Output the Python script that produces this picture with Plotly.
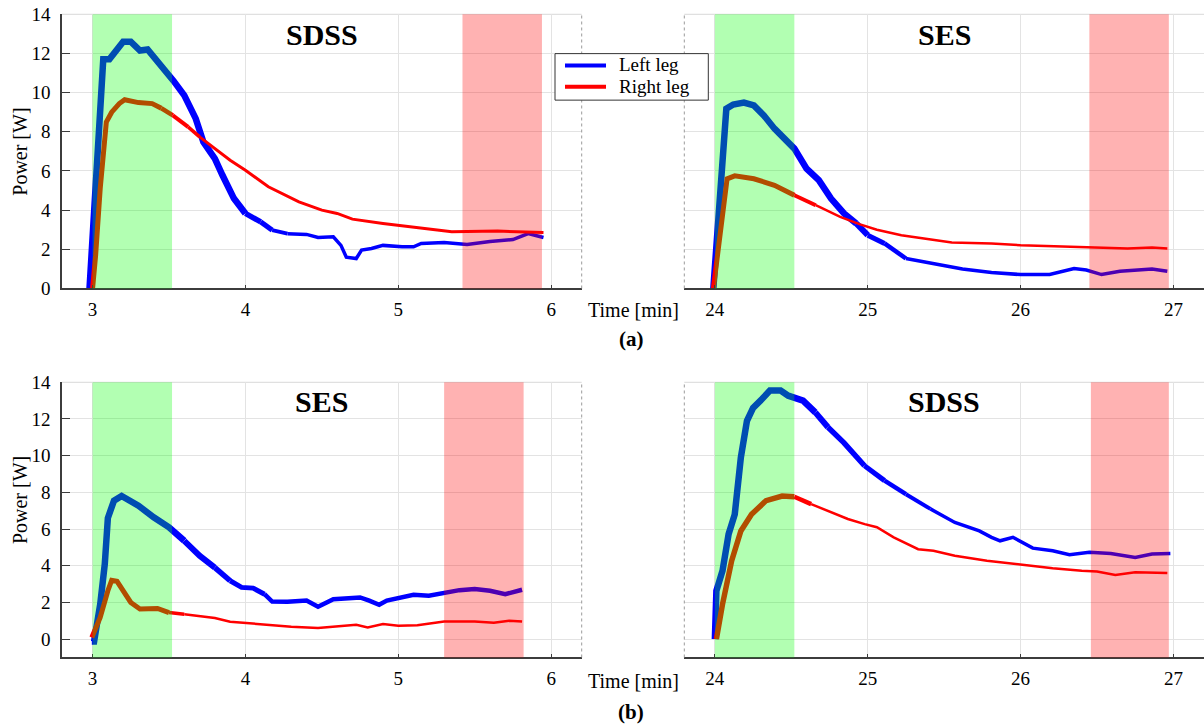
import plotly.graph_objects as go

W, H = 1204, 728

# ---------------- data ----------------
a_sdss_left_x = [2.98, 3.07, 3.11, 3.2, 3.25, 3.31, 3.36, 3.43, 3.53, 3.6, 3.675, 3.725, 3.8, 3.85, 3.925, 4.0, 4.1, 4.175, 4.275, 4.4, 4.475, 4.575, 4.625, 4.66, 4.725, 4.76, 4.825, 4.9, 5.025, 5.1, 5.15, 5.3, 5.45, 5.6, 5.75, 5.85, 5.95]
a_sdss_left_y = [0, 11.7, 11.7, 12.6, 12.6, 12.15, 12.2, 11.56, 10.6, 9.86, 8.67, 7.48, 6.63, 5.78, 4.59, 3.83, 3.4, 2.98, 2.8, 2.76, 2.6, 2.64, 2.2, 1.6, 1.53, 1.96, 2.04, 2.2, 2.13, 2.13, 2.3, 2.35, 2.25, 2.4, 2.5, 2.8, 2.6]
a_sdss_right_x = [3.0, 3.02, 3.05, 3.09, 3.125, 3.175, 3.21, 3.3, 3.39, 3.45, 3.525, 3.625, 3.7, 3.8, 3.9, 4.0, 4.15, 4.35, 4.5, 4.6, 4.7, 4.9, 5.15, 5.35, 5.65, 5.95]
a_sdss_right_y = [0, 1.7, 5.1, 8.5, 9.0, 9.44, 9.64, 9.49, 9.44, 9.2, 8.84, 8.25, 7.74, 7.14, 6.55, 6.04, 5.19, 4.42, 4.0, 3.83, 3.54, 3.32, 3.1, 2.9, 2.93, 2.86]
a_ses_left_x = [23.99, 24.03, 24.075, 24.12, 24.19, 24.255, 24.32, 24.39, 24.456, 24.52, 24.6, 24.68, 24.76, 24.845, 24.925, 25.0, 25.11, 25.25, 25.35, 25.46, 25.62, 25.81, 26.0, 26.19, 26.35, 26.43, 26.53, 26.65, 26.86, 26.96]
a_ses_left_y = [0, 4.4, 9.18, 9.39, 9.49, 9.35, 8.84, 8.16, 7.65, 7.14, 6.12, 5.53, 4.59, 3.83, 3.32, 2.72, 2.3, 1.53, 1.39, 1.19, 0.99, 0.82, 0.71, 0.71, 1.02, 0.94, 0.71, 0.88, 0.99, 0.88]
a_ses_right_x = [23.99, 24.03, 24.08, 24.13, 24.255, 24.39, 24.52, 24.66, 24.82, 24.95, 25.06, 25.22, 25.41, 25.55, 25.81, 26.0, 26.22, 26.49, 26.7, 26.86, 26.96]
a_ses_right_y = [0, 2.7, 5.6, 5.75, 5.6, 5.27, 4.76, 4.25, 3.66, 3.27, 3.0, 2.72, 2.52, 2.35, 2.3, 2.21, 2.16, 2.09, 2.04, 2.09, 2.04]
b_ses_left_x = [2.995, 3.01, 3.05, 3.08, 3.1, 3.14, 3.19, 3.225, 3.3, 3.4, 3.5, 3.6, 3.7, 3.8, 3.9, 3.975, 4.05, 4.125, 4.175, 4.275, 4.4, 4.475, 4.575, 4.65, 4.75, 4.81, 4.875, 4.925, 5.0, 5.1, 5.2, 5.3, 5.4, 5.5, 5.6, 5.7, 5.76, 5.81]
b_ses_left_y = [-0.13, -0.13, 1.9, 4.1, 6.6, 7.55, 7.8, 7.64, 7.27, 6.64, 6.1, 5.36, 4.55, 3.9, 3.18, 2.82, 2.78, 2.45, 2.05, 2.04, 2.1, 1.76, 2.18, 2.22, 2.27, 2.1, 1.87, 2.1, 2.24, 2.42, 2.36, 2.5, 2.67, 2.73, 2.64, 2.45, 2.6, 2.69]
b_ses_right_x = [2.995, 3.05, 3.1, 3.125, 3.16, 3.2, 3.25, 3.31, 3.425, 3.5, 3.6, 3.7, 3.8, 3.9, 4.0, 4.15, 4.3, 4.475, 4.6, 4.725, 4.8, 4.9, 5.0, 5.125, 5.3, 5.5, 5.625, 5.725, 5.81]
b_ses_right_y = [0.09, 1.18, 2.64, 3.2, 3.15, 2.64, 2.0, 1.64, 1.67, 1.45, 1.36, 1.27, 1.15, 0.95, 0.87, 0.76, 0.67, 0.6, 0.69, 0.78, 0.64, 0.82, 0.73, 0.76, 0.96, 0.96, 0.89, 1.0, 0.96]
b_sdss_left_x = [24.0, 24.01, 24.05, 24.09, 24.13, 24.17, 24.21, 24.25, 24.31, 24.36, 24.43, 24.48, 24.577, 24.657, 24.74, 24.845, 24.979, 25.11, 25.25, 25.41, 25.57, 25.73, 25.81, 25.866, 25.95, 26.08, 26.21, 26.32, 26.45, 26.59, 26.75, 26.86, 26.98]
b_sdss_left_y = [0, 2.64, 3.73, 5.73, 6.8, 9.9, 11.9, 12.6, 13.1, 13.55, 13.55, 13.27, 13.0, 12.36, 11.55, 10.7, 9.45, 8.64, 7.9, 7.1, 6.36, 5.9, 5.55, 5.36, 5.55, 4.96, 4.82, 4.6, 4.73, 4.67, 4.45, 4.64, 4.67]
b_sdss_right_x = [24.01, 24.05, 24.11, 24.17, 24.24, 24.335, 24.44, 24.52, 24.63, 24.76, 24.87, 24.98, 25.06, 25.17, 25.33, 25.43, 25.57, 25.78, 26.0, 26.21, 26.4, 26.5, 26.62, 26.75, 26.96]
b_sdss_right_y = [0, 1.9, 4.27, 5.9, 6.8, 7.55, 7.8, 7.76, 7.36, 6.9, 6.55, 6.27, 6.1, 5.55, 4.9, 4.82, 4.55, 4.27, 4.05, 3.87, 3.73, 3.69, 3.5, 3.64, 3.6]

green_intervals = [[3.0, 3.52], [24.0, 24.52], [3.0, 3.52], [24.0, 24.52]]
red_intervals = [[5.42, 5.94], [26.45, 26.97], [5.30, 5.82], [26.46, 26.97]]

panel_titles = ["SDSS", "SES", "SES", "SDSS"]
legend_names = ["Left leg", "Right leg"]
x_ticks_left = [3, 4, 5, 6]
x_ticks_right = [24, 25, 26, 27]
y_ticks = [0, 2, 4, 6, 8, 10, 12, 14]

# ---------------- style ----------------
FONT = "Liberation Serif"
BLUE = "#0000ff"
RED = "#ff0000"
GRID = "#e3e3e3"
SPINE = "#3c3c3c"


def px_x(p):
    return p / W


def px_y(p):
    # vertical placement in paper fraction for a target picture row p
    return 1 - ((p - 8.0) / 0.973) / H


fig = go.Figure()

panels = [("x", "y"), ("x2", "y2"), ("x3", "y3"), ("x4", "y4")]

series = [
    (0, a_sdss_left_x, a_sdss_left_y, BLUE, 0, 6.5, 3.5, 3.95, 4.3),
    (0, a_sdss_right_x, a_sdss_right_y, RED, 1, 5.0, 3.0, 3.45, 3.7),
    (1, a_ses_left_x, a_ses_left_y, BLUE, 0, 6.5, 3.5, 24.85, 25.3),
    (1, a_ses_right_x, a_ses_right_y, RED, 1, 5.0, 2.5, 24.5, 24.7),
    (2, b_ses_left_x, b_ses_left_y, BLUE, 0, 6.5, 4.5, 3.5, 4.2),
    (2, b_ses_right_x, b_ses_right_y, RED, 1, 5.0, 2.5, 3.45, 3.6),
    (3, b_sdss_left_x, b_sdss_left_y, BLUE, 0, 6.5, 3.5, 24.55, 25.5),
    (3, b_sdss_right_x, b_sdss_right_y, RED, 1, 5.5, 2.5, 24.5, 24.7),
]


def width_at(xm, w0, w1, t0, t1):
    if xm <= t0:
        return w0
    if xm >= t1:
        return w1
    f = (xm - t0) / (t1 - t0)
    return w0 + (w1 - w0) * f


for pi, xs, ys, col, ni, w0, w1, t0, t1 in series:
    xa, ya = panels[pi]
    groups = []
    for i in range(len(xs) - 1):
        w = round(width_at((xs[i] + xs[i + 1]) / 2, w0, w1, t0, t1) * 2) / 2
        if groups and groups[-1][0] == w:
            groups[-1][1].append(i + 1)
        else:
            groups.append([w, [i, i + 1]])
    for w, idx in groups:
        fig.add_trace(go.Scatter(
            x=[xs[k] for k in idx], y=[ys[k] for k in idx],
            mode="lines", line=dict(color=col, width=w), name=legend_names[ni],
            xaxis=xa, yaxis=ya, showlegend=False, hoverinfo="skip",
        ))

row_px = [(12.3, 287), (381, 656.7)]
col_px = [(62, 581.7), (684.3, 1204)]
x_ranges = [[2.8, 6.2], [23.8, 27.2]]
y_ranges = [[0, 14], [-1, 14]]

layout = dict(
    width=W, height=H,
    margin=dict(l=0, r=0, t=0, b=0),
    paper_bgcolor="white", plot_bgcolor="white",
    font=dict(family=FONT, color="black", size=18),
    showlegend=False,
)

shapes = []
annotations = []
for pi, (xa, ya) in enumerate(panels):
    r, c = divmod(pi, 2)
    top, bot = row_px[r]
    lft, rgt = col_px[c]
    xkey = "xaxis" + ("" if pi == 0 else str(pi + 1))
    ykey = "yaxis" + ("" if pi == 0 else str(pi + 1))
    layout[xkey] = dict(
        domain=[px_x(lft), px_x(rgt)], anchor=ya, range=x_ranges[c],
        tickmode="array", tickvals=x_ticks_left if c == 0 else x_ticks_right,
        showgrid=True, gridcolor=GRID, gridwidth=1, zeroline=False,
        showline=True, linecolor=SPINE, linewidth=1.5,
        ticks="inside", ticklen=4, tickcolor=SPINE, ticklabelstandoff=3,
        tickfont=dict(family=FONT, size=19, color="black"),
    )
    layout[ykey] = dict(
        domain=[px_y(bot), px_y(top)], anchor=xa, range=y_ranges[r],
        tickmode="array", tickvals=y_ticks,
        showgrid=True, gridcolor=GRID, gridwidth=1, zeroline=False,
        showline=(c == 0), linecolor=SPINE, linewidth=1.5,
        ticks="inside" if c == 0 else "", ticklen=8, tickcolor=SPINE,
        showticklabels=(c == 0), ticklabelstandoff=6,
        tickfont=dict(family=FONT, size=19, color="black"),
    )
    yref = ya + " domain"
    g0, g1 = green_intervals[pi]
    r0, r1 = red_intervals[pi]
    shapes.append(dict(type="rect", xref=xa, yref=yref, x0=g0, x1=g1, y0=0, y1=1,
                       fillcolor="rgba(0,255,0,0.3)", line=dict(width=0), layer="above"))
    shapes.append(dict(type="rect", xref=xa, yref=yref, x0=r0, x1=r1, y0=0, y1=1,
                       fillcolor="rgba(255,0,0,0.3)", line=dict(width=0), layer="above"))
    shapes.append(dict(type="line", xref=xa + " domain", yref=yref, x0=0, x1=1, y0=1, y1=1,
                       line=dict(color="#d8d8d8", width=1), layer="below"))
    bx = 1 if c == 0 else 0
    shapes.append(dict(type="line", xref=xa + " domain", yref=yref, x0=bx, x1=bx, y0=0, y1=1,
                       line=dict(color="#9a9a9a", width=1, dash="dot"), layer="above"))
    annotations.append(dict(x=px_x(321.7 if c == 0 else 944), y=px_y(32.7 if r == 0 else 400),
                            xref="paper", yref="paper", showarrow=False,
                            xanchor="center", yanchor="middle",
                            text="<b>" + panel_titles[pi] + "</b>",
                            font=dict(family=FONT, size=30, color="black")))

for r, (ty, ly, py) in enumerate([(309, 338, 150), (680, 711, 499)]):
    annotations.append(dict(x=px_x(633), y=px_y(ty), xref="paper", yref="paper",
                            xanchor="center", yanchor="middle",
                            showarrow=False, text="Time [min]",
                            font=dict(family=FONT, size=20, color="black")))
    annotations.append(dict(x=px_x(631), y=px_y(ly), xref="paper", yref="paper",
                            xanchor="center", yanchor="middle",
                            showarrow=False, text="<b>(a)</b>" if r == 0 else "<b>(b)</b>",
                            font=dict(family=FONT, size=21, color="black")))
    annotations.append(dict(x=px_x(20), y=px_y(py), xref="paper", yref="paper",
                            xanchor="center", yanchor="middle",
                            showarrow=False, text="Power [W]", textangle=-90,
                            font=dict(family=FONT, size=20, color="black")))

# legend box
shapes.append(dict(type="rect", xref="paper", yref="paper",
                   x0=px_x(555), x1=px_x(708.3), y0=px_y(98.3), y1=px_y(51.7),
                   fillcolor="white", line=dict(color="#333333", width=1), layer="above"))
for i, (col, ly) in enumerate([(BLUE, 63.5), (RED, 85)]):
    shapes.append(dict(type="line", xref="paper", yref="paper",
                       x0=px_x(565), x1=px_x(606), y0=px_y(ly), y1=px_y(ly),
                       line=dict(color=col, width=4), layer="above"))
    annotations.append(dict(x=px_x(616.5), y=px_y(ly - 0.5), xref="paper", yref="paper",
                            xanchor="left", yanchor="middle", showarrow=False,
                            text=legend_names[i],
                            font=dict(family=FONT, size=19, color="black")))

layout["shapes"] = shapes
layout["annotations"] = annotations
fig.update_layout(**layout)

fig.write_html("out.html", config={"displayModeBar": False},
               post_script="document.body.style.margin='0px';document.body.style.overflow='hidden';")
